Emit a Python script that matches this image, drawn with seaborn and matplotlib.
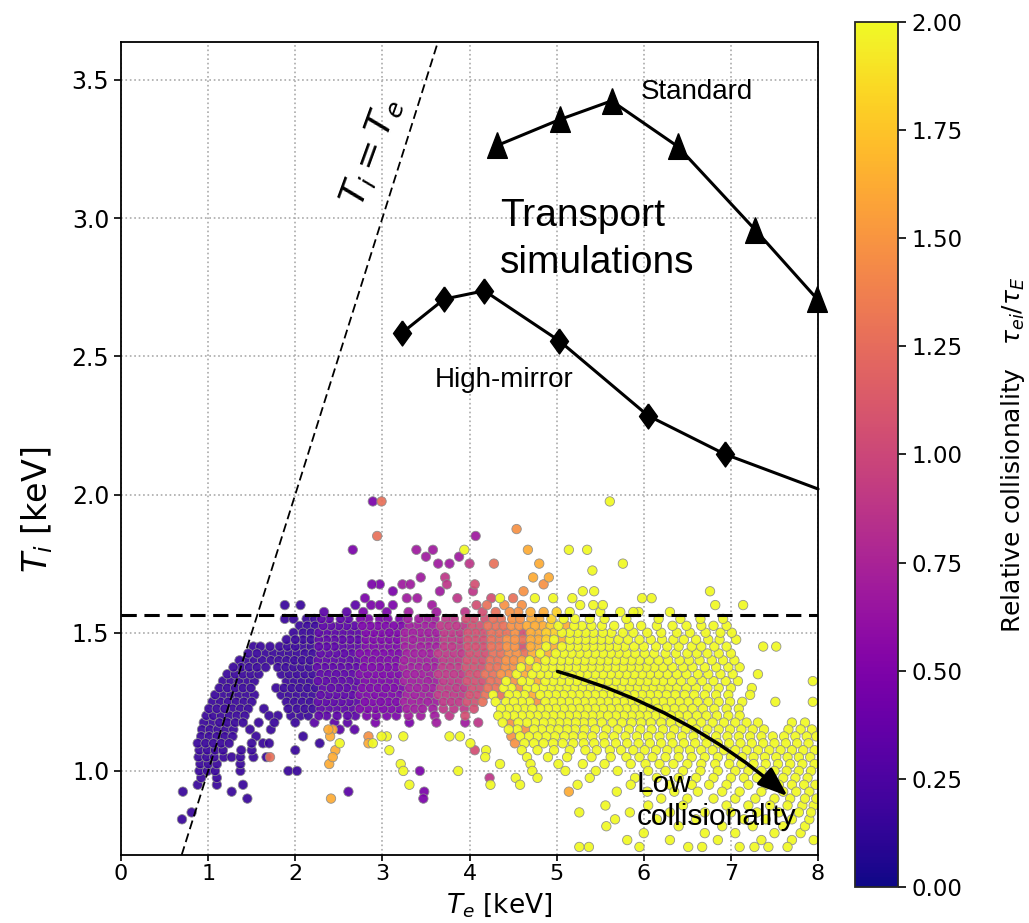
import matplotlib
matplotlib.use("Agg")
import matplotlib.pyplot as plt
import seaborn as sns
import pandas as pd
from matplotlib.colors import Normalize
from matplotlib.cm import ScalarMappable

# transport simulation curves
std_te = [4.32, 5.04, 5.63, 6.39, 7.28, 7.99]
std_ti = [3.263, 3.357, 3.424, 3.259, 2.957, 2.707]
hm_te = [3.23, 3.71, 4.17, 5.03, 6.05, 6.93, 8.0]
hm_ti = [2.586, 2.707, 2.737, 2.556, 2.285, 2.146, 2.02]

ref_ti = 1.565          # horizontal dashed reference
te_ticks = [0, 1, 2, 3, 4, 5, 6, 7, 8]
ti_ticks = [1.0, 1.5, 2.0, 2.5, 3.0, 3.5]
cbar_ticks = [0.0, 0.25, 0.5, 0.75, 1.0, 1.25, 1.5, 1.75, 2.0]

# colour letter -> relative collisionality tau_ei/tau_E
coll_code = {'a': 0.15, 'b': 0.32, 'c': 0.48, 'd': 0.68, 'e': 0.88, 'f': 1.05,
             'g': 1.28, 'h': 1.48, 'i': 1.62, 'j': 1.8, 'y': 2.0}

# measured shots, read off the picture band by band in Ti (keV):
# each token is Te (keV) followed by its colour letter
cloud_ti = [1.975, 1.875, 1.85, 1.80, 1.775, 1.75, 1.725, 1.70, 1.675, 1.65,
            1.625, 1.60, 1.575, 1.55, 1.525, 1.50, 1.475, 1.45, 1.425, 1.40,
            1.375, 1.35, 1.325, 1.30, 1.275, 1.25, 1.225, 1.20, 1.175, 1.15,
            1.125, 1.10, 1.075, 1.05, 1.025, 1.00, 0.975, 0.95, 0.925, 0.90,
            0.875, 0.85, 0.825, 0.80, 0.775, 0.75, 0.725]
cloud_pts = [
    "2.89c 2.99g 5.61y",
    "4.54h",
    "2.94g 4.07d",
    "2.66c 3.39d 3.58d 3.94y 4.67i 5.14y 5.35y",
    "3.50d 3.88d",
    "3.64d 3.77d 4.00e 4.28g 4.80i 5.76y",
    "5.41y",
    "3.44d 3.72e 4.73i 4.91i",
    "2.88c 2.97c 3.23d 3.32d 3.74e 4.06f 4.85h",
    "3.12c 3.66d 4.04e 4.62h 5.30y 5.43y 6.76y",
    "2.80c 3.28d 3.40d 3.86e 4.25f 4.35y 4.50g 4.75y 4.96y 5.18y 5.98y 6.09y",
    "1.88a 2.06a 2.69b 2.87c 2.97c 3.12c 3.57d 4.08f 4.20g 4.40h 4.60h 5.27y 5.42y 5.53y 6.82y 7.14y",
    "2.33b 2.59b 2.78c 3.05c 3.30d 3.62d 3.95e 4.15f 4.30g 4.46h 4.56h 4.70i 4.85i 5.00j 5.15y 5.50y 5.73y 5.88y 5.94y 6.30y",
    "1.88a 1.98a 2.13a 2.22a 2.30b 2.39b 2.52b 2.61b 2.75c 2.84c 2.97c 3.06c 3.20c 3.29d 3.42d 3.51d 3.60d 3.73e 3.82e 3.96f "
    "4.05f 4.18f 4.27g 4.36g 4.49h 4.58h 4.71i 4.80i 4.94j 5.08y 5.21y 5.38y 5.55y 5.80y 6.17y 6.42y 6.65y 6.91y",
    "2.05a 2.14a 2.23a 2.32b 2.41b 2.50b 2.59b 2.68b 2.77c 2.86c 2.95c 3.04c 3.13c 3.22c 3.31d 3.40d 3.49d 3.58d 3.67e 3.76e "
    "3.85e 3.94e 4.03f 4.12f 4.21g 4.30g 4.39g 4.48h 4.57h 4.66i 4.75i 4.84i 4.93j 5.02y 5.11i 5.20y 5.29y 5.40y 5.52y 5.66y "
    "5.83y 5.97y 6.15y 6.33y 6.49y 6.66y 6.80y 6.95y",
    "1.98a 2.09a 2.18a 2.27b 2.36b 2.45b 2.54b 2.63b 2.72b 2.81c 2.90c 2.99c 3.08c 3.17c 3.26d 3.35d 3.44d 3.53d 3.62d 3.71e "
    "3.80e 3.89e 3.98f 4.07f 4.16f 4.25g 4.34g 4.43g 4.52h 4.61f 4.70i 4.79i 4.88j 4.97j 5.06y 5.15y 5.24y 5.33y 5.42y 5.53y "
    "5.63y 5.76y 5.88y 6.04y 6.20y 6.38y 6.53y 6.71y 6.88y 7.01y",
    "1.90a 2.00a 2.09a 2.18a 2.27b 2.36b 2.45b 2.54b 2.63b 2.72b 2.81c 2.90c 2.99c 3.08c 3.17c 3.26d 3.35d 3.44d 3.53d 3.62d "
    "3.71e 3.80e 3.89e 3.98f 4.07f 4.16f 4.25g 4.34g 4.43h 4.52h 4.61g 4.70i 4.79i 4.88j 4.97y 5.06i 5.15y 5.24y 5.33y 5.42y "
    "5.51y 5.60y 5.71y 5.82y 5.95y 6.08y 6.21y 6.34y 6.46y 6.60y 6.74y 6.87y 7.06y",
    "1.52a 1.60a 1.71a 1.82a 1.91a 2.00a 2.09a 2.18a 2.27b 2.36b 2.45b 2.54b 2.63b 2.72b 2.81c 2.90c 2.99c 3.08c 3.17c 3.26d "
    "3.35d 3.44d 3.53d 3.62d 3.71e 3.80e 3.89e 3.98f 4.07f 4.16f 4.25g 4.34g 4.43h 4.52h 4.61f 4.70i 4.79i 4.88y 4.97i 5.06y "
    "5.15y 5.24y 5.33y 5.42y 5.51y 5.60y 5.69y 5.78y 5.89y 6.00y 6.14y 6.27y 6.40y 6.55y 6.66y 6.81y 6.95y 7.37y 7.52y",
    "1.46a 1.56a 1.66a 1.75a 1.84a 1.93a 2.02a 2.11a 2.20a 2.29b 2.38b 2.47b 2.56b 2.65b 2.74c 2.83c 2.92c 3.01c 3.10c 3.19c "
    "3.28d 3.37d 3.46d 3.55d 3.64e 3.73e 3.82e 3.91e 4.00f 4.09f 4.18f 4.27g 4.36g 4.45h 4.54h 4.63g 4.72i 4.81y 4.90i 4.99y "
    "5.08y 5.17y 5.26y 5.35y 5.44y 5.53y 5.62y 5.71y 5.80y 5.90y 6.01y 6.12y 6.25y 6.37y 6.50y 6.61y 6.73y 6.86y 7.00y",
    "1.36a 1.44a 1.53a 1.62a 1.72a 1.81a 1.90a 1.99a 2.08a 2.17a 2.26b 2.35b 2.44b 2.53b 2.62b 2.71b 2.80c 2.89c 2.98c 3.07c "
    "3.16c 3.25d 3.34d 3.43d 3.52d 3.61d 3.70e 3.79e 3.88e 3.97f 4.06f 4.15f 4.24g 4.33g 4.42h 4.51h 4.60i 4.69y 4.78i 4.87y "
    "4.96y 5.05y 5.14y 5.23y 5.32y 5.41y 5.50y 5.59y 5.68y 5.77y 5.86y 5.95y 6.06y 6.17y 6.28y 6.41y 6.52y 6.64y 6.78y 6.91y 7.04y",
    "1.29a 1.38a 1.47a 1.56a 1.66a 1.80a 1.89a 1.98a 2.07a 2.16a 2.25b 2.34b 2.43b 2.52b 2.61b 2.70b 2.79c 2.88c 2.97c 3.06c "
    "3.15c 3.24d 3.33d 3.42d 3.51d 3.60d 3.69e 3.78e 3.87e 3.96f 4.05f 4.14f 4.23g 4.32g 4.41h 4.50h 4.59y 4.68i 4.77y 4.86y "
    "4.95y 5.04y 5.13y 5.22y 5.31y 5.40y 5.49y 5.58y 5.67y 5.76y 5.85y 5.94y 6.03y 6.12y 6.22y 6.33y 6.45y 6.56y 6.70y 6.83y "
    "6.97y 7.10y",
    "1.22a 1.31a 1.40a 1.49a 1.58a 1.84a 1.93a 2.02a 2.11a 2.20a 2.29b 2.38b 2.47b 2.56b 2.65b 2.74c 2.83c 2.92c 3.01c 3.10c "
    "3.19c 3.28d 3.37d 3.46d 3.55d 3.64e 3.73e 3.82e 3.91e 4.00f 4.09f 4.18g 4.27g 4.36h 4.45h 4.54y 4.63i 4.72y 4.81y 4.90y "
    "4.99y 5.08y 5.17y 5.26y 5.35y 5.44y 5.53y 5.62y 5.71y 5.80y 5.89y 5.98y 6.07y 6.17y 6.27y 6.38y 6.49y 6.62y 6.74y 6.88y "
    "7.02y 7.31y",
    "1.17a 1.26a 1.35a 1.44a 1.53a 1.90a 1.99a 2.08a 2.17a 2.26b 2.35b 2.44b 2.53b 2.62b 2.71b 2.80c 2.89c 2.98c 3.07c 3.16c "
    "3.25d 3.34d 3.43d 3.52d 3.61d 3.70e 3.79e 3.88e 3.97f 4.06f 4.15f 4.24g 4.33g 4.42y 4.51h 4.60y 4.69y 4.78i 4.87y 4.96y "
    "5.05y 5.14y 5.23y 5.32y 5.41y 5.50y 5.59y 5.68y 5.77y 5.86y 5.95y 6.04y 6.13y 6.22y 6.32y 6.43y 6.55y 6.67y 6.80y 6.94y "
    "7.08y 7.94y",
    "1.13a 1.22a 1.31a 1.40a 1.49a 1.78a 1.87a 1.96a 2.05a 2.14a 2.23a 2.32b 2.41b 2.50b 2.59b 2.68b 2.77c 2.86c 2.95c 3.04c "
    "3.13c 3.22c 3.31d 3.40d 3.49d 3.58d 3.67e 3.76e 3.85e 3.94e 4.03f 4.12f 4.21g 4.30g 4.39y 4.48y 4.57h 4.66y 4.75y 4.84y "
    "4.93y 5.02y 5.11y 5.20y 5.29y 5.38y 5.47y 5.56y 5.65y 5.74y 5.83y 5.92y 6.01y 6.10y 6.19y 6.28y 6.38y 6.49y 6.60y 6.73y "
    "6.86y 7.00y 7.24y",
    "1.08a 1.17a 1.26a 1.35a 1.44a 1.53a 1.84a 1.93a 2.02a 2.11a 2.20a 2.29b 2.38b 2.47b 2.56b 2.65b 2.74c 2.83c 2.92c 3.01c "
    "3.10c 3.19c 3.28d 3.37d 3.46d 3.55d 3.64e 3.73e 3.82e 3.91e 4.00f 4.09f 4.18g 4.27y 4.36g 4.45y 4.54y 4.63y 4.72i 4.81y "
    "4.90y 4.99y 5.08y 5.17y 5.26y 5.35y 5.44y 5.53y 5.62y 5.71y 5.80y 5.89y 5.98y 6.07y 6.16y 6.26y 6.36y 6.47y 6.58y 6.70y "
    "6.83y 6.97y 7.22y",
    "1.05a 1.14a 1.23a 1.32a 1.41a 1.50a 1.90a 1.99a 2.08a 2.17a 2.26b 2.35b 2.44b 2.53b 2.62b 2.71b 2.80c 2.89c 2.98c 3.07c "
    "3.16c 3.25d 3.34d 3.43d 3.52d 3.61d 3.70e 3.79e 3.88e 3.97f 4.06f 4.15g 4.30y 4.42y 4.51y 4.60y 4.69y 4.78h 4.87y 4.96y "
    "5.05y 5.14y 5.23y 5.32y 5.41y 5.50y 5.59y 5.68y 5.77y 5.86y 5.95y 6.04y 6.13y 6.22y 6.31y 6.41y 6.51y 6.62y 6.74y 6.86y "
    "6.99y 7.13y 7.51y 7.94y",
    "1.01a 1.10a 1.19a 1.28a 1.37a 1.46a 1.64a 1.92a 2.02a 2.11a 2.20a 2.29b 2.38b 2.47b 2.56b 2.65b 2.74c 2.83c 2.92c 3.01c "
    "3.10c 3.19c 3.28d 3.37d 3.46d 3.58d 3.70e 3.82e 3.94e 4.05f 4.36y 4.45y 4.54y 4.63y 4.72y 4.81y 4.90y 4.99y 5.08y 5.17y "
    "5.26y 5.35y 5.44y 5.53y 5.62y 5.71y 5.80y 5.89y 5.98y 6.07y 6.16y 6.25y 6.35y 6.45y 6.56y 6.68y 6.81y 6.95y 7.09y",
    "0.98a 1.06a 1.15a 1.24a 1.33a 1.42a 1.70a 1.80a 1.95a 2.06a 2.15a 2.27b 2.36b 2.48b 2.60b 2.69b 2.82c 2.93c 3.05c 3.16c "
    "3.30d 3.44d 3.60d 3.77e 3.95f 4.33y 4.42y 4.51y 4.60y 4.69y 4.78y 4.87y 4.96y 5.05y 5.14y 5.23y 5.32y 5.41y 5.50y 5.59y "
    "5.68y 5.77y 5.86y 5.95y 6.04y 6.13y 6.22y 6.31y 6.40y 6.50y 6.61y 6.72y 6.84y 6.97y 7.10y",
    "0.95a 1.04a 1.13a 1.22a 1.31a 1.40a 1.58a 1.76a 2.00a 2.22b 2.45b 2.60b 2.92c 3.31c 3.62d 3.95d 4.10e 4.38y 4.47h 4.56y "
    "4.66y 4.75y 4.85y 4.94y 5.03y 5.12y 5.22y 5.31y 5.41y 5.52y 5.64y 5.75y 5.86y 5.97y 6.08y 6.20y 6.31y 6.42y 6.55y 6.66y "
    "6.79y 6.92y 7.05y 7.18y 7.31y 7.70y 7.85y",
    "0.93a 1.02a 1.11a 1.20a 1.29a 1.48a 1.72a 2.38i 2.43i 2.51b 2.68b 4.45y 4.55y 4.64h 4.74y 4.83y 4.93y 5.02y 5.12y 5.21y "
    "5.32y 5.44y 5.57y 5.70y 5.83y 5.96y 6.09y 6.22y 6.35y 6.48y 6.60y 6.73y 6.86y 6.99y 7.12y 7.25y 7.38y 7.66y 7.80y 7.93y",
    "0.92a 1.01a 1.10a 1.19a 1.28a 1.55a 2.09a 2.40i 2.84h 2.99y 3.05y 3.24y 3.77y 3.89y 4.48h 4.58y 4.68y 4.78y 4.88y 4.98y "
    "5.09y 5.19y 5.30y 5.41y 5.54y 5.66y 5.79y 5.92y 6.05y 6.18y 6.31y 6.44y 6.57y 6.70y 6.83y 6.96y 7.09y 7.22y 7.35y 7.48y "
    "7.61y 7.74y 7.87y 7.98y",
    "0.88a 0.97a 1.06a 1.15a 1.24a 1.50a 1.63a 1.70a 2.28a 2.51y 2.84i 2.89y 4.01y 4.52h 4.63y 4.74y 4.85y 4.96y 5.07y 5.19y "
    "5.31y 5.43y 5.55y 5.68y 5.81y 5.94y 6.07y 6.20y 6.33y 6.46y 6.59y 6.72y 6.85y 6.98y 7.11y 7.24y 7.37y 7.50y 7.63y 7.76y 7.89y",
    "0.90a 0.99a 1.08a 1.17a 1.38a 1.50a 2.00a 2.46i 3.08y 4.06f 4.19y 4.60y 4.78y 4.97y 5.15y 5.33y 5.46y 5.61y 5.74y 5.88y "
    "6.01y 6.14y 6.27y 6.40y 6.53y 6.66y 6.79y 6.92y 7.05y 7.18y 7.31y 7.44y 7.57y 7.70y 7.83y 7.96y",
    "0.89a 0.98a 1.07a 1.18a 1.27a 1.37a 1.52a 1.67a 1.71g 2.43i 4.18y 4.66y 4.90y 5.12y 5.40y 5.62y 5.80y 5.95y 6.10y 6.25y "
    "6.40y 6.55y 6.70y 6.85y 7.00y 7.13y 7.26y 7.39y 7.52y 7.65y 7.78y 7.91y",
    "0.91a 1.00a 1.10a 1.37a 2.39i 3.21y 4.35y 4.70y 5.02y 5.30y 5.55y 5.85y 6.02y 6.18y 6.34y 6.50y 6.66y 6.82y 6.98y 7.12y "
    "7.26y 7.40y 7.54y 7.68y 7.82y 7.96y",
    "0.90a 0.99a 1.08a 1.37a 1.92a 2.02a 3.24y 3.43c 3.87y 4.72y 5.10y 5.45y 5.70y 6.05y 6.25y 6.45y 6.65y 6.85y 7.05y 7.20y "
    "7.35y 7.50y 7.64y 7.78y 7.92y",
    "0.92a 1.10a 4.23e 4.53y 4.78y 5.38y 5.90y 6.15y 6.40y 6.60y 6.80y 7.00y 7.15y 7.30y 7.45y 7.60y 7.74y 7.88y",
    "0.88a 1.10a 1.40a 3.31y 4.24y 4.58y 5.24y 5.85y 6.30y 6.55y 6.75y 6.95y 7.20y 7.40y 7.55y 7.70y 7.84y 7.97y",
    "0.71a 1.27a 2.61b 3.48c 5.14i 5.69y 6.04y 6.35y 6.62y 6.90y 7.10y 7.35y 7.60y 7.75y 7.90y",
    "1.45a 2.41i 3.47c 6.20y 6.50y 6.80y 7.05y 7.28y 7.50y 7.68y 7.85y 7.98y",
    "5.56y 6.05y 6.45y 6.95y 7.20y 7.45y 7.65y 7.82y 7.95y",
    "0.81a 5.26y 5.84y 6.30y 6.70y 7.00y 7.30y 7.55y 7.78y 7.92y",
    "0.70a 5.67y 6.15y 6.60y 7.15y 7.40y 7.70y 7.90y",
    "5.57y 6.40y 6.90y 7.25y 7.60y 7.85y",
    "6.00y 6.70y 7.05y 7.50y 7.80y",
    "5.81y 6.30y 6.85y 7.35y 7.70y 7.95y",
    "5.26y 5.37y 5.95y 6.51y 6.67y 7.10y 7.27y 7.43y 7.65y",
]

rows = []
for row_ti, row in zip(cloud_ti, cloud_pts):
    for tok in row.split():
        rows.append((float(tok[:-1]), row_ti, coll_code[tok[-1]]))
cloud = pd.DataFrame(rows, columns=["Te", "Ti", "coll"]).sort_values("coll")

sns.set_style("white")
plt.rcParams['font.family'] = ['DejaVu Sans']
plt.rcParams.update({"text.color": "k", "axes.labelcolor": "k",
                     "xtick.color": "k", "ytick.color": "k"})

fig = plt.figure(figsize=(10.29, 9.23), dpi=100)
ax = fig.add_axes([0.1176, 0.0737, 0.6774, 0.8808])

sns.scatterplot(data=cloud, x="Te", y="Ti", hue="coll", palette="plasma",
                hue_norm=(0, 2), s=46, edgecolor="#8c8c8c", linewidth=0.6,
                alpha=0.92, legend=False, ax=ax, zorder=2)

ax.axline((1, 1), (2, 2), color="k", lw=1.3, dashes=(5, 2.5), zorder=4)
ax.axhline(ref_ti, color="k", lw=2.2, dashes=(5, 2.5), zorder=4)

tri = [(0, 1), (-0.77, -1), (0.77, -1), (0, 1)]
dia = [(0, 1), (0.72, 0), (0, -1), (-0.72, 0), (0, 1)]
ax.plot(std_te, std_ti, color="k", lw=2.2, marker=tri, ms=18.5,
        clip_on=False, zorder=5)
ax.plot(hm_te, hm_ti, color="k", lw=2.2, marker=dia, ms=18,
        markevery=list(range(len(hm_te) - 1)), clip_on=False, zorder=5)

ax.text(2.88, 3.24, r"$T_i = T_e$", rotation=70, fontsize=26,
        ha="center", va="center", rotation_mode="anchor")
ax.text(5.96, 3.431, "Standard", fontsize=20, family="Liberation Sans",
        va="baseline")
ax.text(4.35, 2.802, "Transport\nsimulations", fontsize=28,
        family="Liberation Sans", va="baseline", linespacing=1.4)
ax.text(3.605, 2.39, "High-mirror", fontsize=20, family="Liberation Sans",
        va="baseline")
ax.text(5.92, 0.806, "Low\ncollisionality", fontsize=21.5,
        family="Liberation Sans", va="baseline", linespacing=1.2, zorder=6)
ax.annotate("", xy=(7.65, 0.909), xytext=(5.01, 1.36),
            arrowprops=dict(arrowstyle="-|>,head_length=1.2,head_width=0.45",
                            connectionstyle="arc3,rad=-0.11", color="k",
                            lw=2.5, mutation_scale=15, shrinkA=0, shrinkB=0),
            zorder=6)

ax.set_xlim(0, 8)
ax.set_ylim(0.696, 3.637)
ax.set_xticks(te_ticks)
ax.set_yticks(ti_ticks)
ax.set_yticklabels([f"{v:.1f}" for v in ti_ticks])
ax.grid(True, linestyle=":", color="#aaaaaa", linewidth=1.2)
ax.set_axisbelow(True)
ax.tick_params(axis="y", labelsize=17, direction="out", length=5, width=1.2,
               left=True)
ax.tick_params(axis="x", labelsize=16, direction="out", length=4, width=1.2,
               pad=2.5, bottom=True)
for sp in ax.spines.values():
    sp.set_color("k")
    sp.set_linewidth(1.3)

ax.set_xlabel(r"$T_e$ [keV]", fontsize=19)
ax.xaxis.set_label_coords(0.542, -0.0445)
ax.set_ylabel(r"$T_i$ [keV]", fontsize=24)
ax.yaxis.set_label_coords(-0.095, 0.424)

cax = fig.add_axes([0.8309, 0.039, 0.0418, 0.9372])
sm = ScalarMappable(norm=Normalize(0, 2), cmap="plasma")
cbar = fig.colorbar(sm, cax=cax, ticks=cbar_ticks)
cbar.ax.set_yticklabels([f"{v:.2f}" for v in cbar_ticks])
cbar.ax.tick_params(labelsize=16.5, length=6, width=1.2, right=True)
cbar.outline.set_linewidth(1.3)
cbar.set_label(r"Relative collisionality   $\tau_{ei}/\tau_E$", fontsize=18)
cax.yaxis.set_label_coords(3.35, 0.5)

fig.savefig("out.png", dpi=100)
